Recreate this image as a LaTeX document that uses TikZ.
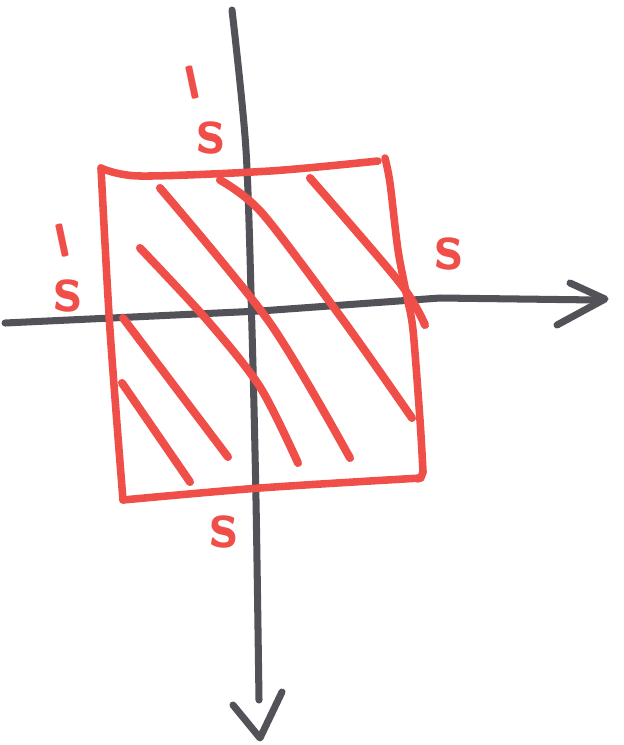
\documentclass[tikz,border=0pt]{standalone}
\usepackage{graphicx}
\definecolor{pen}{RGB}{240,78,72}
\definecolor{ink}{RGB}{82,82,88}
\newcommand{\negtick}{\rotatebox{12}{\scalebox{1.7}[0.5]{|}}}
\begin{document}
\begin{tikzpicture}[x=0.02cm,y=-0.02cm,
	axis/.style={ink,line width=4pt,line cap=round,line join=round},
	edge/.style={pen,line width=4.3pt,line cap=round,line join=round},
	hatch/.style={pen,line width=4.6pt,line cap=round},
	lab/.style={pen,inner sep=0pt,font=\fontsize{38}{30}\selectfont\sffamily\bfseries}]
			\useasboundingbox (0,0) rectangle (624,745);
			% axes
			\draw[axis] (5,323) -- (260,311) -- (440,298) -- (598,300);
			\draw[axis] (570,283) -- (605,299) -- (557,325);
			\draw[axis] plot[smooth] coordinates {(232,10) (246,150) (252,330) (256,500) (259,700)};
			\draw[axis] (233,705) -- (260,738) -- (282,692);
			% square
			\draw[edge] plot[smooth] coordinates {(378,161) (270,171) (140,176) (101,168)};
			\draw[edge] plot[smooth] coordinates {(101,168) (110,330) (123,500)};
			\draw[edge] plot[smooth] coordinates {(123,500) (260,488) (421,478)};
			\draw[edge] plot[smooth] coordinates {(385,158) (390,183) (398,250) (407,297) (413,330) (420,420) (423,472)};
			\draw[edge] (423,472) to[bend left=30] (418,479);
			% hatching
			\draw[hatch] (122,383) -- (190,482);
			\draw[hatch] (123,318) -- (228,457);
			\draw[hatch] plot[smooth] coordinates {(140,248) (207,320) (260,387) (298,463)};
			\draw[hatch] plot[smooth] coordinates {(160,188) (270,323) (350,458)};
			\draw[hatch] plot[smooth] coordinates {(220,180) (262,213) (343,320) (412,418)};
			\draw[hatch] plot[smooth] coordinates {(310,178) (400,283) (425,325)};
			% labels
			\node[lab] (top) at (198,108) {\shortstack[l]{\negtick\\[8pt]\hspace{14pt}s}};
			\node[lab] (left) at (62,266) {\shortstack[l]{\negtick\\[8pt]\hspace{7pt}s}};
			\node[lab] (right) at (449,254) {s};
			\node[lab] (bottom) at (224,532) {s};
		\end{tikzpicture}
\end{document}
